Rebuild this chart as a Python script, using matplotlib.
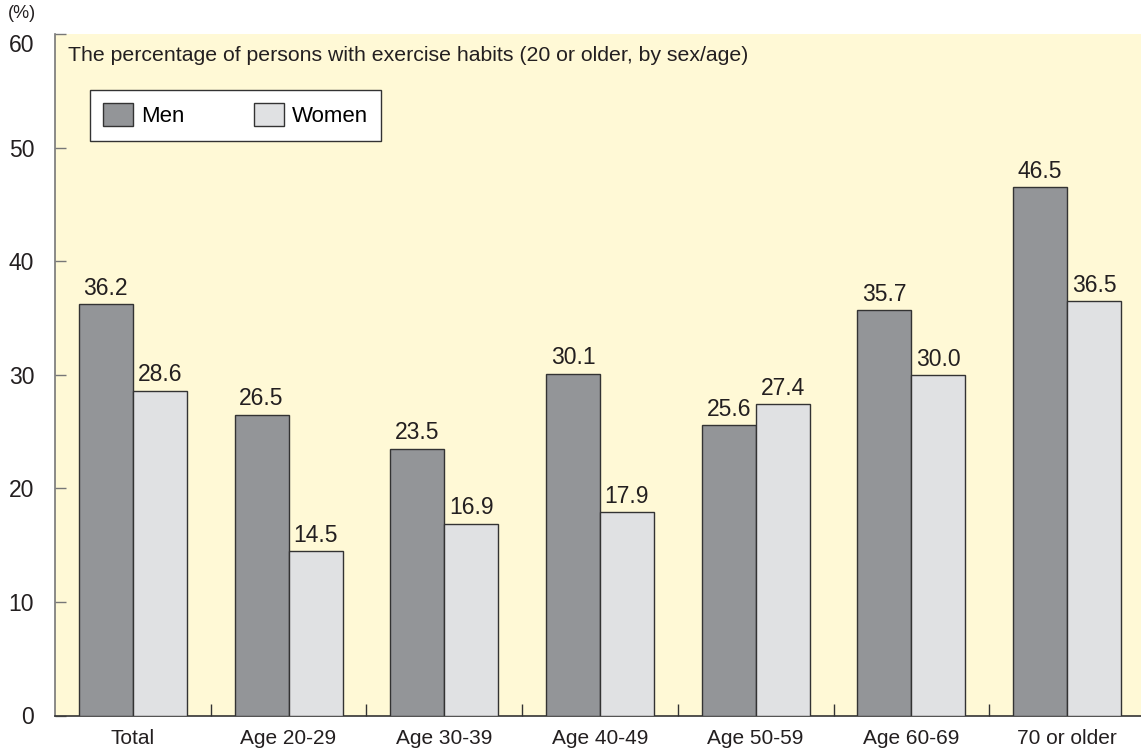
import matplotlib
matplotlib.use("Agg")
import matplotlib.pyplot as plt
import numpy as np
from matplotlib.patches import Patch

plt.rcParams['font.family'] = ['Liberation Sans', 'DejaVu Sans']

categories = ["Total", "Age 20-29", "Age 30-39", "Age 40-49", "Age 50-59", "Age 60-69", "70 or older"]
men = [36.2, 26.5, 23.5, 30.1, 25.6, 35.7, 46.5]
women = [28.6, 14.5, 16.9, 17.9, 27.4, 30.0, 36.5]
yticks = [0, 10, 20, 30, 40, 50, 60]

W, H = 1141, 753
fig = plt.figure(figsize=(W / 100, H / 100), dpi=100)
ax = fig.add_axes([55 / W, (H - 715.5) / H, (W - 55) / W, (715.5 - 34) / H])
ax.set_facecolor("#FFF9D6")

x = np.arange(len(categories))
bw = 0.347
men_c = "#939598"
wom_c = "#E0E1E3"
edge = "#333333"
b1 = ax.bar(x - bw / 2, men, bw, color=men_c, edgecolor=edge, linewidth=1.0, zorder=3)
b2 = ax.bar(x + bw / 2, women, bw, color=wom_c, edgecolor=edge, linewidth=1.0, zorder=3)

for bars, vals in ((b1, men), (b2, women)):
    for r, v in zip(bars, vals):
        ax.annotate(f"{v:.1f}", (r.get_x() + r.get_width() / 2, v), xytext=(0, 3),
                    textcoords="offset points", ha="center", va="bottom",
                    fontsize=16.5, color="#231F20")

ax.set_xlim(-0.5, -0.5 + (W - 55) / 155.7)
ax.set_ylim(0, 60)
ax.set_yticks(yticks)
ax.set_yticklabels([str(t) for t in yticks], fontsize=16.5, color="#231F20")
ax.tick_params(axis="y", direction="in", length=8, width=1, color="#777777", pad=15)
for lbl in ax.get_yticklabels():
    if lbl.get_text() == "60":
        lbl.set_va("top")
        lbl.set_y(60)

# x: category labels at centers, tick marks between groups
ax.set_xticks(x)
ax.set_xticklabels(categories, fontsize=15, color="#231F20")
ax.tick_params(axis="x", length=0, pad=10)
ax.set_xticks(np.arange(len(categories) - 1) + 0.5, minor=True)
ax.tick_params(axis="x", which="minor", direction="in", length=9, width=1, color="#333333")

for s in ("top", "right"):
    ax.spines[s].set_visible(False)
ax.spines["left"].set_color("#777777")
ax.spines["left"].set_linewidth(1.2)
ax.spines["bottom"].set_color("#333333")
ax.spines["bottom"].set_linewidth(1.2)

ax.text(13 / (W - 55), 1 - 21 / 681, "The percentage of persons with exercise habits (20 or older, by sex/age)",
        transform=ax.transAxes, fontsize=15.3, color="#231F20", va="center", ha="left")

handles = [Patch(facecolor=men_c, edgecolor=edge, label="Men"),
           Patch(facecolor=wom_c, edgecolor=edge, label="Women")]
leg = ax.legend(handles=handles, loc="upper left", bbox_to_anchor=(35 / (W - 55), 1 - 56 / 681),
                ncol=2, fontsize=16, frameon=True, fancybox=False, borderpad=0.6,
                handlelength=1.35, handleheight=1.2, columnspacing=3.1, handletextpad=0.36,
                borderaxespad=0)
leg.get_frame().set_edgecolor("#333333")
leg.get_frame().set_linewidth(1.0)
leg.get_frame().set_facecolor("white")
leg.get_frame().set_alpha(1.0)

fig.text(8 / W, 1 - 14 / H, "(%)", fontsize=13, color="#231F20", va="center", ha="left")

fig.savefig("out.png", dpi=100)
